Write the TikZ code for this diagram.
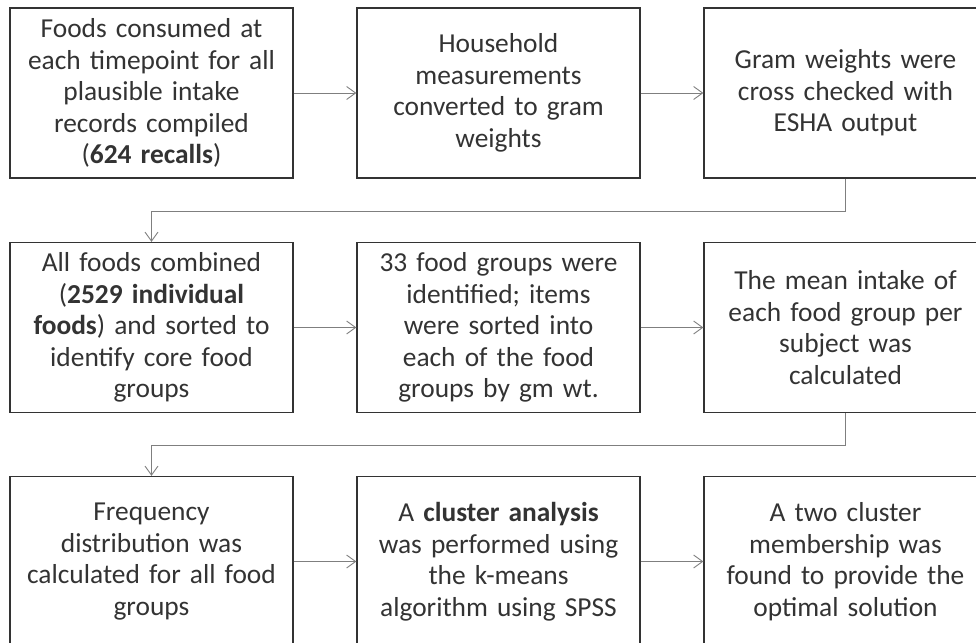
\documentclass[tikz,border=0pt]{standalone}
\usepackage{fontspec}
\setmainfont{Carlito}
\usepackage{xcolor}
\usetikzlibrary{arrows.meta}
\definecolor{boxline}{HTML}{333333}
\definecolor{txt}{HTML}{333333}
\definecolor{link}{HTML}{7F7F7F}

\begin{document}
\begin{tikzpicture}[x=1pt, y=-1pt,
    box/.style={draw=boxline, line width=1.3pt, minimum width=283pt, minimum height=170pt,
        text width=270pt, align=center, inner sep=0pt, text=txt,
        font=\fontsize{27.4}{31.5}\selectfont},
    link/.style={draw=link, line width=0.9pt, -{Straight Barb[length=9pt, width=13pt]}}]

    \useasboundingbox (0,0) rectangle (976,642);
    \clip (0,0) rectangle (976,642);

    % first row
    \node[box] (A1) at (151.5,93) {Foods consumed at\\ each timepoint for all\\ plausible intake\\ records compiled\\ (\textbf{624 recalls})};
    \node[box] (A2) at (498.5,93) {Household\\ measurements\\ converted to gram\\ weights};
    \node[box] (A3) at (845.5,93) {Gram weights were\\ cross checked with\\ ESHA output};

    % second row
    \node[box] (B1) at (151.5,327.5) {All foods combined\\ (\textbf{2529 individual}\\ \textbf{foods}) and sorted to\\ identify core food\\ groups};
    \node[box] (B2) at (498.5,327.5) {33 food groups were\\ identified; items\\ were sorted into\\ each of the food\\ groups by gm wt.};
    \node[box] (B3) at (845.5,327.5) {The mean intake of\\ each food group per\\ subject was\\ calculated};

    % third row
    \node[box] (C1) at (151.5,561.5) {Frequency\\ distribution was\\ calculated for all food\\ groups};
    \node[box] (C2) at (498.5,561.5) {A \textbf{cluster analysis}\\ was performed using\\ the k-means\\ algorithm using SPSS};
    \node[box] (C3) at (845.5,561.5) {A two cluster\\ membership was\\ found to provide the\\ optimal solution};

    \draw[link] (A1) -- (A2);
    \draw[link] (A2) -- (A3);
    \draw[link] (A3.south) -- ++(0,32.5) -| (B1.north);
    \draw[link] (B1) -- (B2);
    \draw[link] (B2) -- (B3);
    \draw[link] (B3.south) -- ++(0,32.5) -| (C1.north);
    \draw[link] (C1) -- (C2);
    \draw[link] (C2) -- (C3);

\end{tikzpicture}
\end{document}
